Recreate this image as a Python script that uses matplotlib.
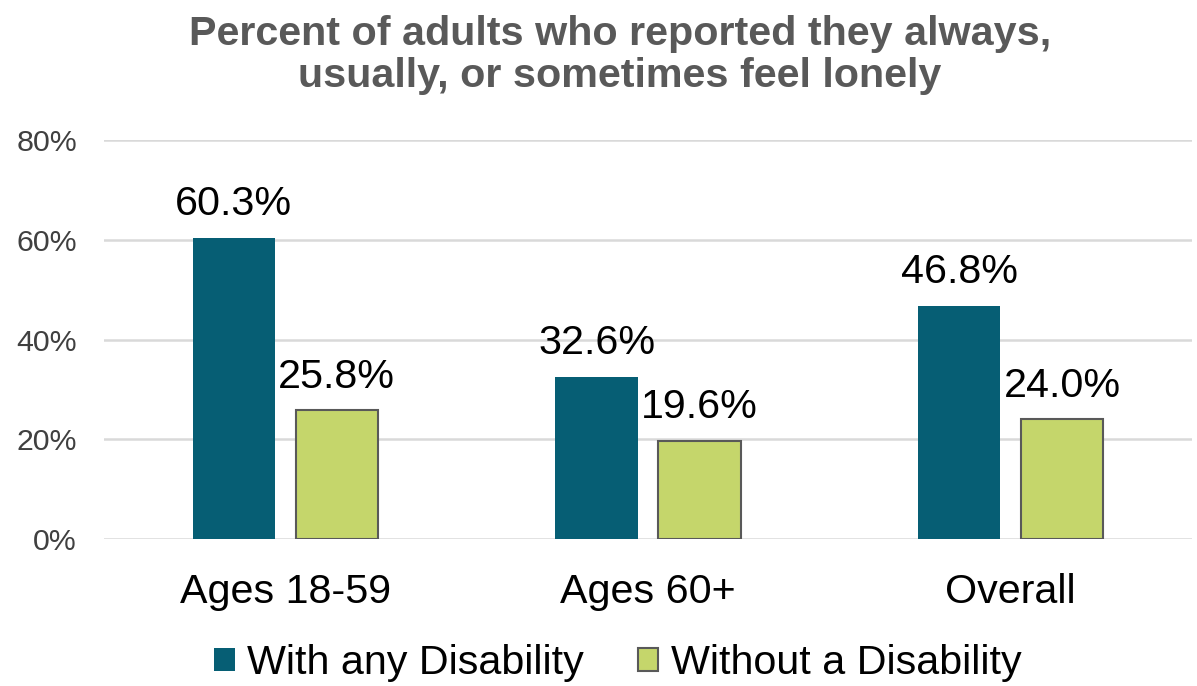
import matplotlib.pyplot as plt
import numpy as np

plt.rcParams['font.family'] = ['Liberation Sans', 'DejaVu Sans']

# data
categories = ['Ages 18-59', 'Ages 60+', 'Overall']
with_disability = [60.3, 32.6, 46.8]
without_disability = [25.8, 19.6, 24.0]
series_names = ['With any Disability', 'Without a Disability']

teal = '#065E74'
green = '#C5D66B'

fig = plt.figure(figsize=(11.97, 6.86), dpi=100)
ax = fig.add_axes([0.0869, 0.214, 0.909, 0.582])

x = np.arange(len(categories))
w = 0.227
off = 0.142
b1 = ax.bar(x - off, with_disability, w, color=teal, label=series_names[0], zorder=3)
b2 = ax.bar(x + off, without_disability, w, color=green, edgecolor='#595959',
            linewidth=1.5, label=series_names[1], zorder=3)

for bars, vals in [(b1, with_disability), (b2, without_disability)]:
    for r, v in zip(bars, vals):
        ax.annotate(f'{v:.1f}%', (r.get_x() + r.get_width() / 2, v),
                    xytext=(0, 16.5), textcoords='offset points',
                    ha='center', va='baseline', fontsize=29.7, color='black')

ax.set_xlim(-0.5, 2.5)
ax.set_ylim(0, 80)
ax.set_yticks([0, 20, 40, 60, 80])
ax.set_yticklabels([f'{t}%' for t in [0, 20, 40, 60, 80]])
ax.set_xticks(x)
ax.set_xticklabels(categories)
ax.tick_params(axis='y', length=0, labelsize=21.8, colors='#404040', pad=19.5)
ax.tick_params(axis='x', length=0, labelsize=29.7, colors='black', pad=24)
for s in ax.spines.values():
    s.set_visible(False)
ax.grid(axis='y', color='#D9D9D9', linewidth=1.8, zorder=0)
ax.set_axisbelow(True)

fig.suptitle('Percent of adults who reported they always,\nusually, or sometimes feel lonely',
             x=0.518, y=0.978, fontsize=29.7, fontweight='bold', color='#595959',
             linespacing=1.12)

fig.legend(handles=[b1, b2], loc='center', bbox_to_anchor=(0.516, 0.033), ncol=2,
           frameon=False, fontsize=29.7, handlelength=0.5, handleheight=0.5,
           handletextpad=0.3, columnspacing=1.3)

fig.savefig('out.png', dpi=100)
